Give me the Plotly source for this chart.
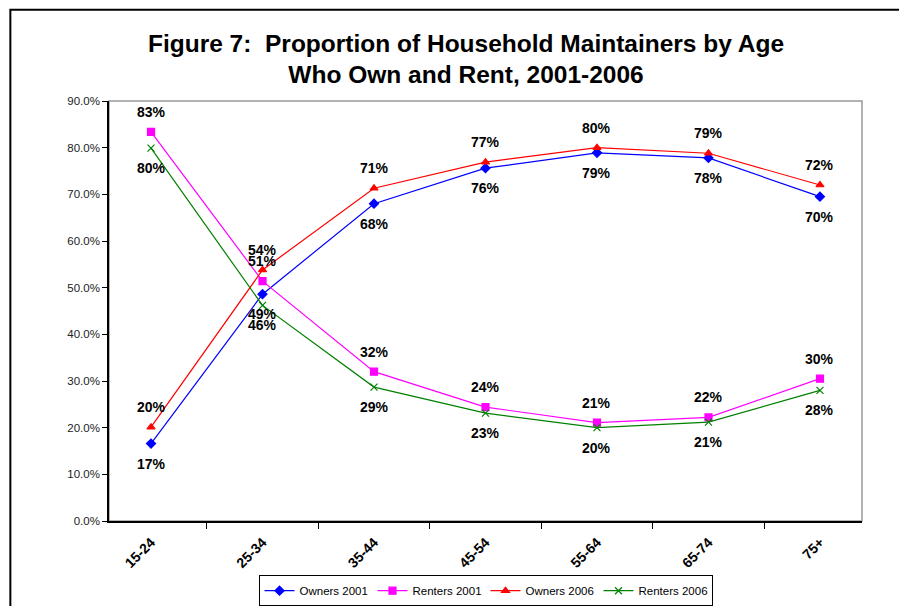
import plotly.graph_objects as go

ages = ["15-24", "25-34", "35-44", "45-54", "55-64", "65-74", "75+"]
owners_2001 = [16.6, 48.6, 68.0, 75.6, 78.9, 77.8, 69.5]
renters_2001 = [83.4, 51.4, 32.0, 24.4, 21.1, 22.2, 30.5]
owners_2006 = [20.1, 53.8, 71.3, 76.9, 80.0, 78.8, 72.0]
renters_2006 = [79.9, 46.2, 28.7, 23.1, 20.0, 21.2, 28.0]

# name, values, colour, marker, label above (+) or below (-)
series = [
    ("Owners 2001", owners_2001, "#0000FF", "diamond", -1),
    ("Renters 2001", renters_2001, "#FF00FF", "square", 1),
    ("Owners 2006", owners_2006, "#FF0000", "triangle-up", 1),
    ("Renters 2006", renters_2006, "#008000", "x-thin", -1),
]

fig = go.Figure()
annotations = []
for name, vals, col, sym, side in series:
    fig.add_trace(go.Scatter(
        x=ages, y=vals, name=name, mode="lines+markers",
        line=dict(color=col, width=1.2),
        marker=dict(symbol=sym, size=7, color=col,
                    line=dict(color=col, width=1.2)),
    ))
    for a, v in zip(ages, vals):
        annotations.append(dict(
            x=a, y=v, text=f"<b>{round(v)}%</b>", showarrow=False,
            yshift=20 * side, font=dict(size=14, color="black"),
        ))

# the page body adds an 8px offset, so margins are trimmed to compensate
fig.update_layout(
    width=907, height=606,
    paper_bgcolor="white", plot_bgcolor="white",
    margin=dict(l=101, r=53, t=93, b=93),
    font=dict(family="Arial, Liberation Sans", color="black"),
    title=dict(
        text="<b>Figure 7:  Proportion of Household Maintainers by Age<br>Who Own and Rent, 2001-2006</b>",
        x=0.505, xanchor="center", y=0.928, yanchor="top",
        font=dict(size=24.5, color="black"),
    ),
    annotations=annotations,
    legend=dict(
        orientation="h", x=0.5, xanchor="center",
        yref="container", y=0.064, yanchor="top",
        bordercolor="black", borderwidth=1, font=dict(size=11.5),
        itemwidth=30, entrywidth=68,
    ),
    shapes=[
        dict(type="rect", xref="paper", yref="paper", x0=0, x1=1, y0=0, y1=1,
             line=dict(color="#999999", width=1.5), layer="below"),
        dict(type="rect", xref="paper", yref="paper", x0=-0.131, x1=1.2, y0=-0.3, y1=1.217,
             line=dict(color="black", width=2)),
    ],
)

fig.update_xaxes(
    type="category", showline=True, linecolor="black", linewidth=1.5,
    ticks="outside", tickson="boundaries", ticklen=6, tickcolor="black",
    tickangle=-45, tickfont=dict(size=14), showgrid=False,
    ticklabelstandoff=6, automargin=False,
    tickvals=ages, ticktext=[f"<b>{a}</b>" for a in ages],
)
fig.update_yaxes(
    range=[0, 90], dtick=10, tickformat=".1f", ticksuffix="%",
    showline=True, linecolor="black", linewidth=1.5,
    ticks="outside", ticklen=5, tickcolor="black",
    tickfont=dict(size=11.5, color="#222222"), showgrid=False, zeroline=False,
    automargin=False,
)

fig.write_html("out.html")
